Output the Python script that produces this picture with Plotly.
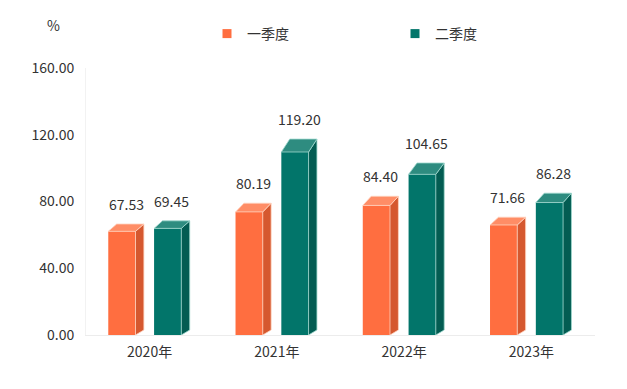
import plotly.graph_objects as go

# ---- data ----
years = ["2020年", "2021年", "2022年", "2023年"]
series_names = ["一季度", "二季度"]
q1_values = [67.53, 80.19, 84.40, 71.66]
q2_values = [69.45, 119.20, 104.65, 86.28]
y_ticks = [0, 40, 80, 120, 160]
y_tick_labels = ["0.00", "40.00", "80.00", "120.00", "160.00"]

# ---- style ----
FONT = "Noto Sans CJK SC, Noto Sans, sans-serif"
TXT = "#333333"
OFF = 8  # page body margin
W, H = 627 - OFF, 389 - OFF
ML, MT = 86 - OFF, 68 - OFF
PW, PH = 509, 267
MR = W - ML - PW
MB = H - MT - PH
colors = {
    "front": ["#FF6E40", "#02756A"],
    "side": ["#D5582F", "#035C52"],
    "top": ["#FF8D66", "#2E8C80"],
    "edge": ["#FFD3BF", "#9FD8CE"],
}
offsets = [-0.325, 0.035]   # front-face left offset from category centre (x units)
bar_w = 0.214               # front-face width (x units)
depth_x = 0.066             # 3D depth horizontal (x units)
front_ratio = 0.92          # perspective: visible front-face height ratio
back_ratio = 0.985          # perspective: back-top height ratio
base_depth = 3.0            # perspective: back-bottom lift (y units)


def px_x(p):
    return (p - OFF - ML) / PW


def px_y(p):
    return (H - (p - OFF) - MB) / PH


x_idx = list(range(len(years)))
fig = go.Figure()
shapes = []
annotations = []

for s, vals in enumerate([q1_values, q2_values]):
    front = [v * front_ratio for v in vals]
    fig.add_trace(go.Bar(
        x=x_idx, y=front, width=bar_w, offset=offsets[s],
        marker=dict(color=colors["front"][s], line=dict(width=0)),
        showlegend=False, hoverinfo="skip",
    ))
    # legend proxy
    fig.add_trace(go.Scatter(
        x=[None], y=[None], mode="markers", name=series_names[s],
        marker=dict(symbol="square", size=9, color=colors["front"][s]),
    ))
    for i, v in enumerate(vals):
        xl = i + offsets[s]
        xr = xl + bar_w
        ft = front[i]
        bt = v * back_ratio
        # side face
        shapes.append(dict(
            type="path", xref="x", yref="y",
            path=f"M {xr},0 L {xr + depth_x},{base_depth} L {xr + depth_x},{bt} L {xr},{ft} Z",
            fillcolor=colors["side"][s], line=dict(color=colors["edge"][s], width=0.8),
            layer="above",
        ))
        # top face
        shapes.append(dict(
            type="path", xref="x", yref="y",
            path=f"M {xl},{ft} L {xl + depth_x},{bt} L {xr + depth_x},{bt} L {xr},{ft} Z",
            fillcolor=colors["top"][s], line=dict(color=colors["edge"][s], width=0.8),
            layer="above",
        ))
        annotations.append(dict(
            x=xl + (bar_w + depth_x) / 2, y=bt, xref="x", yref="y",
            text=f"{v:.2f}", showarrow=False, yanchor="middle", yshift=20,
            font=dict(family=FONT, size=14, color=TXT),
        ))

annotations.append(dict(
    x=px_x(53), y=px_y(25), xref="paper", yref="paper",
    text="%", showarrow=False, xanchor="center", yanchor="middle",
    font=dict(family=FONT, size=14, color=TXT),
))

fig.update_layout(
    width=W, height=H,
    margin=dict(l=ML, r=MR, t=MT, b=MB, autoexpand=False),
    paper_bgcolor="white", plot_bgcolor="white",
    barmode="overlay",
    font=dict(family=FONT, size=14, color=TXT),
    shapes=shapes, annotations=annotations,
    legend=dict(
        orientation="h", x=px_x(207), y=px_y(34),
        xanchor="left", yanchor="middle",
        font=dict(family=FONT, size=14, color=TXT),
        entrywidth=143, entrywidthmode="pixels", itemwidth=30,
        bgcolor="rgba(0,0,0,0)",
    ),
    xaxis=dict(
        range=[-0.5, 3.5], tickvals=x_idx, ticktext=years, showgrid=False,
        zeroline=False, showline=True, linecolor="#ECECEC", linewidth=1,
        ticks="", ticklabelstandoff=4,
        tickfont=dict(family=FONT, size=14, color=TXT), fixedrange=True,
    ),
    yaxis=dict(
        range=[0, 160], tickvals=y_ticks, ticktext=y_tick_labels, showgrid=False,
        zeroline=False, showline=True, linecolor="#F2F2F2", linewidth=1,
        ticks="", ticklabelstandoff=8,
        tickfont=dict(family=FONT, size=14, color=TXT), fixedrange=True,
    ),
)

fig.write_html("out.html")
